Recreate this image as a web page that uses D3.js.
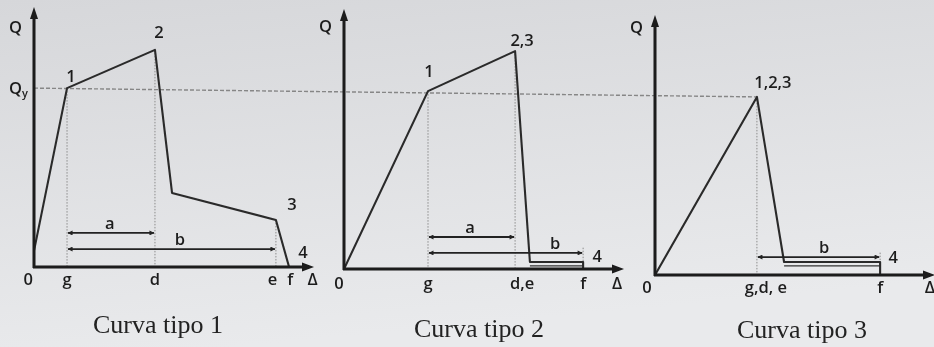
<!DOCTYPE html>
<html>
<head>
<meta charset="utf-8">
<script src="https://cdn.jsdelivr.net/npm/d3@7"></script>
<style>
  html, body { margin: 0; padding: 0; background: #e1e2e4; }
  svg { display: block; }
</style>
</head>
<body>
<svg id="chart" width="934" height="347"></svg>
<script>
// ---- Curva tipo 1 : load-deformation backbone (Δ, Q) ----
const tipo1Delta = [0, 11.8, 43.2, 49.3, 86.4, 91.1];
const tipo1Q     = [6.2, 68.8, 83.5, 28.5, 18.1, 0];
const tipo1PointLabels = ["", "1", "2", "", "3", "4"];
const tipo1Drops = [1, 2, 4];                 // points projected down to the Δ axis
const tipo1DimNames = ["a", "b"];
const tipo1DimFrom  = [11.8, 11.8];
const tipo1DimTo    = [43.2, 86.4];
const tipo1DimQ     = [13.1, 6.9];
const tipo1DimLabelAt = [27.1, 52.1];
const tipo1TickLabels = ["0", "g", "d", "e", "f", "Δ"];
const tipo1TickAt     = [-2.1, 11.8, 43.2, 85.2, 91.5, 99.5];
const tipo1YLabels = ["Q", "Qy"];
const tipo1YAt     = [92.3, 68.8];

// ---- Curva tipo 2 ----
const tipo2Delta = [0, 30.0, 61.1, 66.4, 85.4, 85.4];
const tipo2Q     = [0, 68.4, 83.8, 2.7, 2.7, 0];
const tipo2PointLabels = ["", "1", "2,3", "", "4", ""];
const tipo2Drops = [1, 2];
const tipo2Residual = [66.4, 85.4, 1.2];      // lower edge of the residual band: from, to, Q
const tipo2DimNames = ["a", "b"];
const tipo2DimFrom  = [30.0, 30.0];
const tipo2DimTo    = [61.1, 85.4];
const tipo2DimQ     = [12.3, 6.2];
const tipo2DimLabelAt = [45.0, 75.4];
const tipo2TickLabels = ["0", "g", "d,e", "f", "Δ"];
const tipo2TickAt     = [-1.8, 30.0, 63.6, 85.4, 97.5];
const tipo2YLabels = ["Q"];
const tipo2YAt     = [93.5];

// ---- Curva tipo 3 ----
const tipo3Delta = [0, 36.4, 46.1, 80.4, 80.4];
const tipo3Q     = [0, 68.5, 5.0, 5.0, 0];
const tipo3PointLabels = ["", "1,2,3", "", "4", ""];
const tipo3Drops = [1];
const tipo3Residual = [46.1, 80.4, 3.5];
const tipo3DimNames = ["b"];
const tipo3DimFrom  = [36.4];
const tipo3DimTo    = [80.4];
const tipo3DimQ     = [6.9];
const tipo3DimLabelAt = [60.4];
const tipo3TickLabels = ["0", "g,d, e", "f", "Δ"];
const tipo3TickAt     = [-2.9, 39.6, 80.4, 98.2];
const tipo3YLabels = ["Q"];
const tipo3YAt     = [95.4];

const captions = ["Curva tipo 1", "Curva tipo 2", "Curva tipo 3"];

// ---------------------------------------------------------------
const W = 934, H = 347;
const svg = d3.select("#chart");
const defs = svg.append("defs");

const paper = defs.append("linearGradient").attr("id", "paper")
  .attr("x1", 0).attr("y1", 0).attr("x2", 0.25).attr("y2", 1);
paper.append("stop").attr("offset", "0%").attr("stop-color", "#d6d7da");
paper.append("stop").attr("offset", "100%").attr("stop-color", "#e9eaec");
svg.append("rect").attr("width", W).attr("height", H).attr("fill", "url(#paper)");

defs.append("filter").attr("id", "soft")
  .attr("x", "-5%").attr("y", "-5%").attr("width", "110%").attr("height", "110%")
  .append("feGaussianBlur").attr("stdDeviation", 0.55);

// small arrowhead for the a / b dimension lines
defs.append("marker").attr("id", "dimHead")
  .attr("viewBox", "0 0 10 10").attr("refX", 9).attr("refY", 5)
  .attr("markerWidth", 6).attr("markerHeight", 5)
  .attr("markerUnits", "userSpaceOnUse")
  .attr("orient", "auto-start-reverse")
  .append("path").attr("d", "M0,0 L10,5 L0,10 Z").attr("fill", "#222");

// shared scales (each panel is translated to its own origin)
const x = d3.scaleLinear().domain([0, 100]).range([0, 280]);
const y = d3.scaleLinear().domain([0, 100]).range([0, -260]);

const panels = [
  { delta: tipo1Delta, q: tipo1Q, labels: tipo1PointLabels, drops: tipo1Drops,
    offsets: [[0,0],[4,-6],[4,-12],[0,0],[16,-10],[14,-9]],
    dims: { names: tipo1DimNames, from: tipo1DimFrom, to: tipo1DimTo, q: tipo1DimQ, at: tipo1DimLabelAt },
    ticks: { labels: tipo1TickLabels, at: tipo1TickAt }, tickDy: 18,
    ylab: { labels: tipo1YLabels, at: tipo1YAt },
    residual: null, fTop: null,
    origin: [34, 267], caption: [158, 333] },
  { delta: tipo2Delta, q: tipo2Q, labels: tipo2PointLabels, drops: tipo2Drops,
    offsets: [[0,0],[1,-14],[7,-5],[0,0],[14,0],[0,0]],
    dims: { names: tipo2DimNames, from: tipo2DimFrom, to: tipo2DimTo, q: tipo2DimQ, at: tipo2DimLabelAt },
    ticks: { labels: tipo2TickLabels, at: tipo2TickAt }, tickDy: 20,
    ylab: { labels: tipo2YLabels, at: tipo2YAt },
    residual: tipo2Residual, fTop: 8.2,
    origin: [344, 269], caption: [479, 337] },
  { delta: tipo3Delta, q: tipo3Q, labels: tipo3PointLabels, drops: tipo3Drops,
    offsets: [[0,0],[16,-9],[0,0],[13,1],[0,0]],
    dims: { names: tipo3DimNames, from: tipo3DimFrom, to: tipo3DimTo, q: tipo3DimQ, at: tipo3DimLabelAt },
    ticks: { labels: tipo3TickLabels, at: tipo3TickAt }, tickDy: 18,
    ylab: { labels: tipo3YLabels, at: tipo3YAt },
    residual: tipo3Residual, fTop: 8.6,
    origin: [655, 275], caption: [802, 338] }
];

const ink = svg.append("g").attr("filter", "url(#soft)");
const labelFont = "'Open Sans', 'Noto Sans', sans-serif";
const labelSize = 16.5;
const labelWeight = 600;
const labelInk = "#1e1e1e";

// Qy reference level, running from the first Q axis to the peak of tipo 3
{
  const p1 = panels[0], p3 = panels[2];
  ink.append("line")
    .attr("x1", p1.origin[0]).attr("y1", p1.origin[1] + y(tipo1Q[1]))
    .attr("x2", p3.origin[0] + x(tipo3Delta[1])).attr("y2", p3.origin[1] + y(tipo3Q[1]))
    .attr("stroke", "#868686").attr("stroke-width", 1.4)
    .attr("stroke-dasharray", "4,2");
}

const curve = d3.line().x(d => x(d[0])).y(d => y(d[1]));

panels.forEach(p => {
  const g = ink.append("g").attr("transform", `translate(${p.origin[0]},${p.origin[1]})`);
  const pts = p.delta.map((d, i) => [d, p.q[i]]);

  // dotted projections to the Δ axis
  g.selectAll("line.drop").data(p.drops).join("line").attr("class", "drop")
    .attr("x1", i => x(p.delta[i])).attr("x2", i => x(p.delta[i]))
    .attr("y1", i => y(p.q[i])).attr("y2", y(0))
    .attr("stroke", "#8c8c8c").attr("stroke-width", 1)
    .attr("stroke-dasharray", "1.5,1.5");

  // residual band and the dotted mark at f
  if (p.residual) {
    const [r0, r1, rq] = p.residual;
    const topQ = p.q[p.q.length - 2];
    g.append("line")
      .attr("x1", x(r0)).attr("x2", x(r1)).attr("y1", y(rq)).attr("y2", y(rq))
      .attr("stroke", "#333").attr("stroke-width", 1.4);
    g.append("line")
      .attr("x1", x(r1)).attr("x2", x(r1)).attr("y1", y(p.fTop)).attr("y2", y(topQ))
      .attr("stroke", "#8c8c8c").attr("stroke-width", 1)
      .attr("stroke-dasharray", "1.5,1.5");
  }

  // backbone curve
  g.append("path").attr("d", curve(pts))
    .attr("fill", "none").attr("stroke", "#2a2a2a").attr("stroke-width", 2.1)
    .attr("stroke-linejoin", "round");

  // a / b dimension lines
  const dims = p.dims.names.map((n, i) => ({ n, from: p.dims.from[i], to: p.dims.to[i], q: p.dims.q[i], at: p.dims.at[i] }));
  g.selectAll("line.dim").data(dims).join("line").attr("class", "dim")
    .attr("x1", d => x(d.from) + 1).attr("x2", d => x(d.to) - 1)
    .attr("y1", d => y(d.q)).attr("y2", d => y(d.q))
    .attr("stroke", "#222").attr("stroke-width", 1.8)
    .attr("marker-start", "url(#dimHead)").attr("marker-end", "url(#dimHead)");
  g.selectAll("text.dim").data(dims).join("text").attr("class", "dim")
    .attr("x", d => x(d.at)).attr("y", d => y(d.q) - 4)
    .attr("text-anchor", "middle")
    .attr("font-family", labelFont).attr("font-size", labelSize)
    .attr("font-weight", labelWeight).attr("fill", labelInk)
    .text(d => d.n);

  // axes with arrowheads
  const top = y(100), right = x(100);
  g.append("line").attr("x1", 0).attr("x2", 0).attr("y1", 1).attr("y2", top + 8)
    .attr("stroke", "#1a1a1a").attr("stroke-width", 3);
  g.append("line").attr("x1", -1).attr("x2", right - 8).attr("y1", 0).attr("y2", 0)
    .attr("stroke", "#1a1a1a").attr("stroke-width", 3);
  g.append("path").attr("d", `M0,${top} L-4,${top + 12} L4,${top + 12} Z`).attr("fill", "#1a1a1a");
  g.append("path").attr("d", `M${right},0 L${right - 12},-4.5 L${right - 12},4.5 Z`).attr("fill", "#1a1a1a");

  // point labels
  g.selectAll("text.pt").data(pts.map((d, i) => ({ d, i })).filter(o => p.labels[o.i] !== ""))
    .join("text").attr("class", "pt")
    .attr("x", o => x(o.d[0]) + p.offsets[o.i][0])
    .attr("y", o => y(o.d[1]) + p.offsets[o.i][1])
    .attr("text-anchor", "middle")
    .attr("font-family", labelFont).attr("font-size", labelSize)
    .attr("font-weight", labelWeight).attr("fill", labelInk)
    .text(o => p.labels[o.i]);

  // Δ axis labels
  g.selectAll("text.tick").data(p.ticks.labels).join("text").attr("class", "tick")
    .attr("x", (t, i) => x(p.ticks.at[i]))
    .attr("y", p.tickDy)
    .attr("text-anchor", "middle")
    .attr("font-family", labelFont).attr("font-size", labelSize)
    .attr("font-weight", labelWeight).attr("fill", labelInk)
    .text(t => t);

  // Q axis labels (Qy drawn with a subscript)
  p.ylab.labels.forEach((t, i) => {
    const txt = g.append("text")
      .attr("x", -25).attr("y", y(p.ylab.at[i])).attr("dy", "0.35em")
      .attr("font-family", labelFont).attr("font-size", labelSize)
      .attr("font-weight", labelWeight).attr("fill", labelInk);
    txt.append("tspan").text(t[0]);
    if (t.length > 1) {
      txt.append("tspan").attr("font-size", 11).attr("dy", 3).text(t.slice(1));
    }
  });
});

// captions
ink.selectAll("text.caption").data(captions).join("text").attr("class", "caption")
  .attr("x", (c, i) => panels[i].caption[0])
  .attr("y", (c, i) => panels[i].caption[1])
  .attr("text-anchor", "middle")
  .attr("font-family", "'Liberation Serif', 'DejaVu Serif', serif")
  .attr("font-size", 26).attr("fill", "#242424")
  .text(c => c);
</script>
</body>
</html>
